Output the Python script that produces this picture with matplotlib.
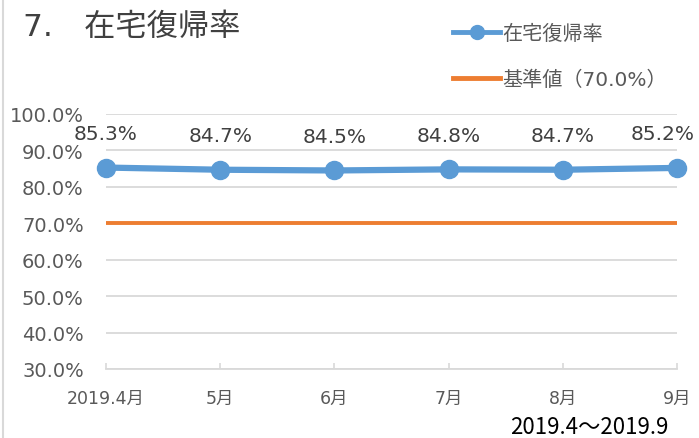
import matplotlib
matplotlib.use("Agg")
import matplotlib.pyplot as plt
from matplotlib.lines import Line2D

plt.rcParams['font.family'] = ['DejaVu Sans', 'Noto Sans CJK JP']

months = ['2019.4月', '5月', '6月', '7月', '8月', '9月']
rate = [85.3, 84.7, 84.5, 84.8, 84.7, 85.2]
baseline = [70.0, 70.0, 70.0, 70.0, 70.0, 70.0]
yticks = [30, 40, 50, 60, 70, 80, 90, 100]
title = '7.　在宅復帰率'
series_label = '在宅復帰率'
base_label = '基準値（70.0%）'
period = '2019.4～2019.9'

fig = plt.figure(figsize=(6.99, 4.39), dpi=100)
ax = fig.add_axes([106/699, 1-370/439, (677-106)/699, (370-115)/439])

x = list(range(len(months)))
ax.plot(x, baseline, color='#ED7D31', lw=2.8, solid_capstyle='round', zorder=2)
ax.plot(x, rate, color='#5B9BD5', lw=4.5, marker='o', ms=13, zorder=3, clip_on=False)

for i, v in enumerate(rate):
    dx = -14 if i == len(rate) - 1 else 0
    ax.annotate(f'{v:.1f}%', (i, v), xytext=(dx*0.72, 24.5), textcoords='offset points',
                ha='center', va='center', fontsize=14.5, color='#404040')

ax.set_xlim(0, len(months) - 1)
ax.set_ylim(30, 100)
ax.set_yticks(yticks)
ax.set_yticklabels([f'{t:.1f}%' for t in yticks], fontsize=14, color='#595959')
ax.set_xticks(x)
ax.set_xticklabels(months, fontsize=12.5, color='#595959')
ax.tick_params(axis='y', length=0, pad=16)
ax.tick_params(axis='x', direction='in', length=4, color='#d9d9d9', width=1.2, pad=14)
ax.grid(axis='y', color='#d9d9d9', lw=1.3)
ax.set_axisbelow(True)
for s in ['top', 'right', 'left']:
    ax.spines[s].set_visible(False)
ax.spines['bottom'].set_color('#d9d9d9')
ax.spines['bottom'].set_linewidth(1.3)

fig.text(23/699, 1-28/439, title, fontsize=22.5, color='#404040', va='center', ha='left')

handles = [Line2D([], [], color='#5B9BD5', lw=3.5, marker='o', ms=10),
           Line2D([], [], color='#ED7D31', lw=3.5)]
fig.legend(handles, [series_label, base_label], loc='upper left',
           bbox_to_anchor=(445/699, 1-17/439), frameon=False, fontsize=14.5,
           labelcolor='#595959', handlelength=2.35, handletextpad=0.1,
           labelspacing=1.3, borderaxespad=0)

fig.text(668/699, 1-428/439, period, fontsize=16, color='black', ha='right', va='center',
         family=['Noto Sans CJK JP', 'DejaVu Sans'])

fig.add_artist(Line2D([3/699, 3/699], [0, 1], color='#d9d9d9', lw=1.5, transform=fig.transFigure))

fig.savefig('out.png', dpi=100)
